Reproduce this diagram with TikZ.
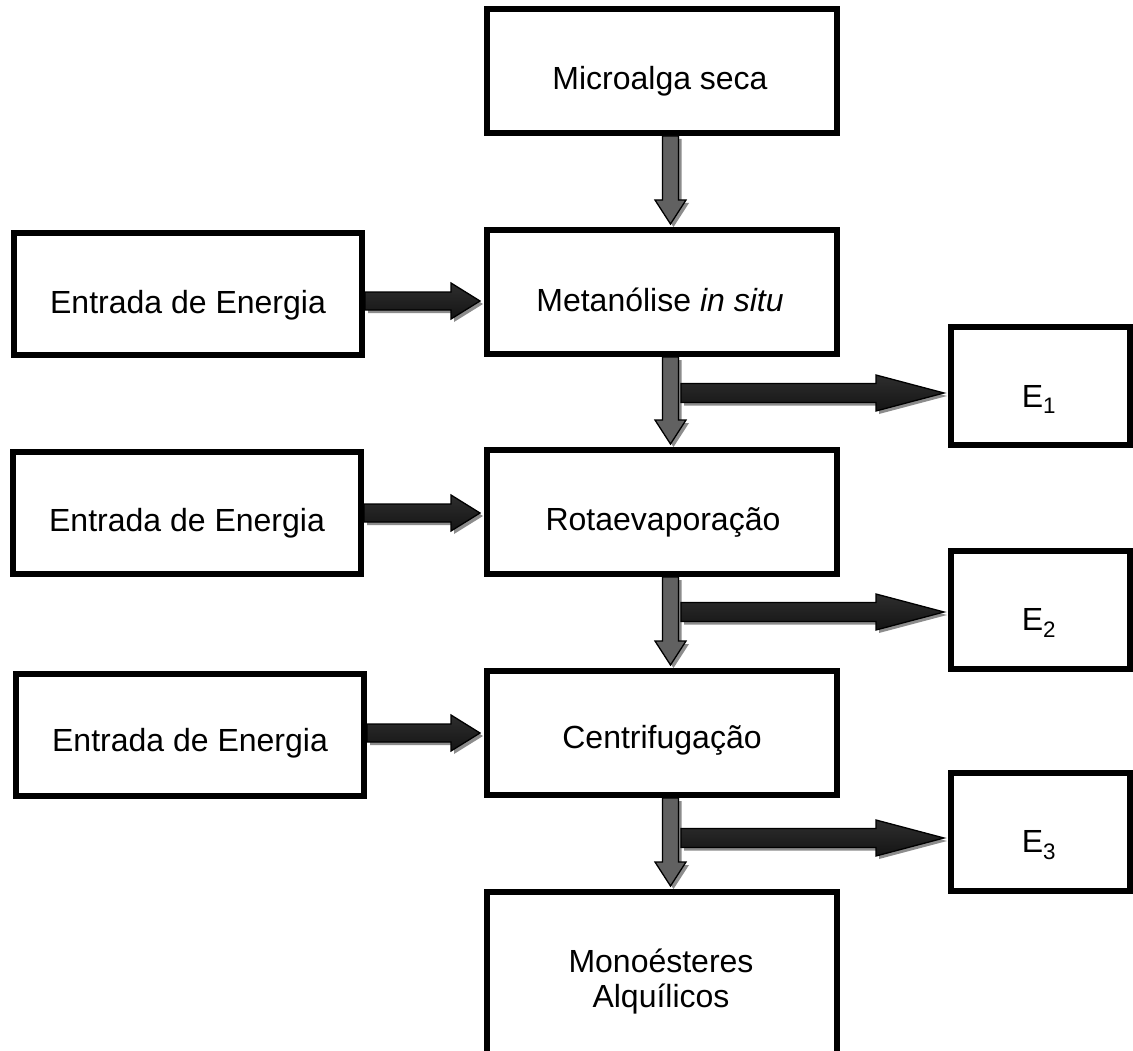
\documentclass[tikz,border=0pt]{standalone}
\usepackage{fontspec}
\setmainfont{Liberation Sans}
\usetikzlibrary{calc,shadows}
\newcommand\vArrow[2]{%
  \path[varr] let \p1=(#1), \p2=(#2) in
    (\x1-8pt,\y1) -- (\x1+8pt,\y1) -- (\x1+8pt,\y2+24pt) -- (\x1+15.5pt,\y2+24pt)
    -- (\x1,\y2) -- (\x1-15.5pt,\y2+24pt) -- (\x1-8pt,\y2+24pt) -- cycle;}
\newcommand\hArrow[5]{%
  \path[harr] let \p1=(#1), \p2=(#2) in
    (\x1,\y1+#3) -- (\x2-#5,\y1+#3) -- (\x2-#5,\y1+#4) -- (\x2,\y1)
    -- (\x2-#5,\y1-#4) -- (\x2-#5,\y1-#3) -- (\x1,\y1-#3) -- cycle;}
\begin{document}
\begin{tikzpicture}[x=1pt,y=-1pt,
  box/.style={draw=black, line width=6pt, fill=white, inner sep=0pt,
    minimum width=350pt, minimum height=124pt},
  sidebox/.style={box, minimum width=348pt, minimum height=122pt},
  ebox/.style={box, minimum width=179pt, minimum height=118pt},
  lbl/.style={anchor=base, inner sep=0pt, font=\fontsize{32}{38}\selectfont},
  harr/.style={draw=black, line width=1.3pt, line join=miter,
    top color=black!82, middle color=black!58, bottom color=black!92,
    drop shadow={shadow xshift=3pt, shadow yshift=-3pt, fill=black!45, opacity=1}},
  varr/.style={draw=black, line width=1.3pt, line join=miter,
    top color=black!62, middle color=black!88, bottom color=black!62,
    drop shadow={shadow xshift=3pt, shadow yshift=-3pt, fill=black!45, opacity=1}}
]
\useasboundingbox (0,0) rectangle (1133,1051);
\clip (0,0) rectangle (1133,1051);
\fill[white] (0,0) rectangle (1133,1051);

% main column
\node[box] (mic) at (662,71) {};
\node[box] (met) at (662,292) {};
\node[box] (rot) at (662,512) {};
\node[box] (cen) at (662,733) {};
\node[box, minimum height=205pt] (mono) at (662,994.5) {};

% left column
\node[sidebox] (ent1) at (188,294) {};
\node[sidebox] (ent2) at (187,512.5) {};
\node[sidebox] (ent3) at (190,734.5) {};

% right column
\node[ebox] (e1) at (1040.5,386) {};
\node[ebox] (e2) at (1040.5,609.5) {};
\node[ebox] (e3) at (1040.5,831.5) {};

% texts
\node[lbl] (tmic) at (660,90) {Microalga seca};
\node[lbl] (tmet) at (660,311) {Metanólise \textit{in situ}};
\node[lbl] (trot) at (663,530) {Rotaevaporação};
\node[lbl] (tcen) at (662,748) {Centrifugação};
\node[lbl] (tmono1) at (661,972) {Monoésteres};
\node[lbl] (tmono2) at (661,1007) {Alquílicos};
\node[lbl] (tent1) at (188,313) {Entrada de Energia};
\node[lbl] (tent2) at (187,531) {Entrada de Energia};
\node[lbl] (tent3) at (190,751) {Entrada de Energia};
\node[lbl] (te1) at (1039,407) {E\textsubscript{1}};
\node[lbl] (te2) at (1039,630) {E\textsubscript{2}};
\node[lbl] (te3) at (1039,852) {E\textsubscript{3}};

% down arrows
\vArrow{$(mic.south)+(8.5,0)$}{$(met.north)+(8.5,-3)$}
\vArrow{$(met.south)+(8.5,0)$}{$(rot.north)+(8.5,-3)$}
\vArrow{$(rot.south)+(8.5,0)$}{$(cen.north)+(8.5,-3)$}
\vArrow{$(cen.south)+(8.5,0)$}{$(mono.north)+(8.5,-3)$}

% energy input arrows
\coordinate (l1) at ($(ent1.east)+(0,7)$);
\coordinate (l2) at ($(ent2.east)+(0,0.5)$);
\coordinate (l3) at ($(ent3.east)+(0,-1.5)$);
\hArrow{l1}{$(met.west |- l1)+(-4,0)$}{9pt}{18pt}{29pt}
\hArrow{l2}{$(rot.west |- l2)+(-4,0)$}{9pt}{18pt}{29pt}
\hArrow{l3}{$(cen.west |- l3)+(-4,0)$}{9pt}{18pt}{29pt}

% outputs to E boxes
\coordinate (r1) at (681,393);
\coordinate (r2) at (681,612);
\coordinate (r3) at (681,838);
\hArrow{r1}{$(e1.west |- r1)+(-4,0)$}{9.5pt}{18pt}{68pt}
\hArrow{r2}{$(e2.west |- r2)+(-4,0)$}{9.5pt}{18pt}{68pt}
\hArrow{r3}{$(e3.west |- r3)+(-4,0)$}{9.5pt}{18pt}{68pt}
\end{tikzpicture}
\end{document}
